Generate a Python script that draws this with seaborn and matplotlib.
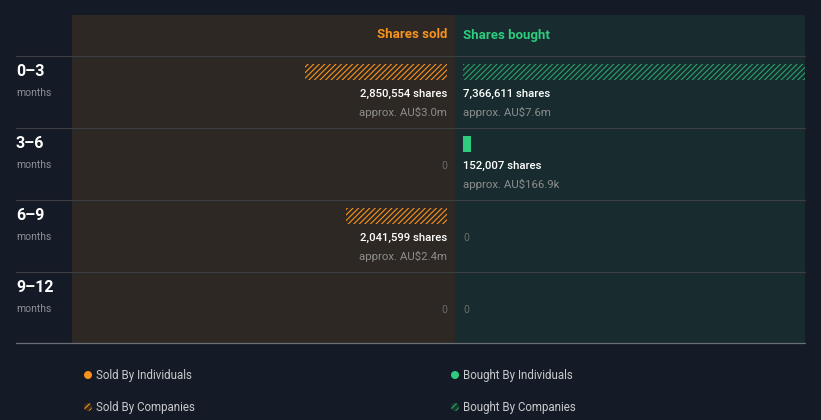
import matplotlib
matplotlib.use('Agg')
import matplotlib.pyplot as plt
from matplotlib.patches import Rectangle, Circle
import seaborn as sns

# ---- data ----
periods = ['0–3', '3–6', '6–9', '9–12']
sold_individuals = [0, 0, 0, 0]
sold_companies = [2850554, 0, 2041599, 0]
bought_individuals = [0, 152007, 0, 0]
bought_companies = [7366611, 0, 0, 0]
sold_value = ['AU$3.0m', None, 'AU$2.4m', None]
bought_value = ['AU$7.6m', 'AU$166.9k', None, None]

# ---- style ----
BG = '#151b26'
SOLD_BG = '#2d2823'
BOUGHT_BG = '#182b2e'
ORANGE = '#f7931e'
GREEN = '#2dcc7e'
GREEN_HATCH = '#27a26b'
GRID = '#3d3f44'
HATCH = '//////'

sns.set_theme(style='dark', rc={'figure.facecolor': BG, 'axes.facecolor': 'none'})
plt.rcParams['font.family'] = ['Roboto', 'DejaVu Sans']
plt.rcParams['hatch.linewidth'] = 0.8

W, H = 821, 420
fig = plt.figure(figsize=(W / 100, H / 100), dpi=100)
fig.patch.set_facecolor(BG)

# background / layout axes in pixel units
bg = fig.add_axes([0, 0, 1, 1], zorder=0)
bg.set_xlim(0, W)
bg.set_ylim(H, 0)
bg.axis('off')

bg.add_patch(Rectangle((72, 15), 455 - 72, 343 - 15, facecolor=SOLD_BG, lw=0))
bg.add_patch(Rectangle((455, 15), 805 - 455, 343 - 15, facecolor=BOUGHT_BG, lw=0))

row_top, row_h = 56, 72
for i in range(len(periods)):
    y = row_top + i * row_h
    bg.plot([16, 805], [y, y], color=GRID, lw=0.8)
    bg.text(16, y + 15, periods[i], color='white', fontsize=11.5, fontweight='bold', va='center', ha='left')
    bg.text(16, y + 37, 'months', color='#8b8f96', fontsize=7.5, va='center', ha='left')
bg.plot([16, 805], [343, 343], color='#6a6f77', lw=0.9)

bg.text(447, 35, 'Shares sold', color=ORANGE, fontsize=9.5, fontweight='bold', ha='right', va='center')
bg.text(463, 35, 'Shares bought', color=GREEN, fontsize=9.5, fontweight='bold', ha='left', va='center')

# legend
leg = [('Sold By Individuals', ORANGE, None, 88, 375),
       ('Sold By Companies', ORANGE, '/////', 88, 407),
       ('Bought By Individuals', GREEN, None, 455, 375),
       ('Bought By Companies', GREEN_HATCH, '/////', 455, 407)]
for label, c, h, x, y in leg:
    if h is None:
        bg.add_patch(Circle((x, y), 4, facecolor=c, lw=0))
    else:
        bg.add_patch(Circle((x, y), 4, facecolor='#3a2a1a' if c == ORANGE else '#173a2c',
                            edgecolor=c, hatch=h, lw=0))
    bg.text(x + 8, y, label, color='#c8cacd', fontsize=8.3, va='center', ha='left')

# ---- data axes ----
px_per_share = 375 / 7.55e6
y0_fig = 1 - 344 / H
h_fig = (344 - 56) / H
bar_w = 16 / 72
top_off = 8 / 72 + bar_w / 2  # bar centre below row top
ylim = (len(periods) - top_off, -top_off)

ax_s = fig.add_axes([72 / W, y0_fig, (447 - 72) / W, h_fig], zorder=2)
ax_b = fig.add_axes([463 / W, y0_fig, (805 - 463) / W, h_fig], zorder=2)

for ax, ind, comp, col, hcol in [(ax_s, sold_individuals, sold_companies, ORANGE, ORANGE),
                                  (ax_b, bought_individuals, bought_companies, GREEN, GREEN_HATCH)]:
    sns.barplot(x=ind, y=periods, orient='h', width=bar_w, color=col, saturation=1, ax=ax)
    n = len(ax.patches)
    sns.barplot(x=comp, y=periods, orient='h', width=bar_w, color=col, saturation=1, ax=ax)
    for p in ax.patches:
        p.set_linewidth(0)
    for p in ax.patches[n:]:
        p.set_facecolor('none')
        p.set_edgecolor(hcol)
        p.set_hatch(HATCH)
    ax.set_ylim(*ylim)
    ax.axis('off')

ax_s.set_xlim(7.55e6, 0)
ax_b.set_xlim(0, (805 - 463) / px_per_share)

for ax, ind, comp, vals, ha in [(ax_s, sold_individuals, sold_companies, sold_value, 'right'),
                                (ax_b, bought_individuals, bought_companies, bought_value, 'left')]:
    for i in range(len(periods)):
        total = ind[i] + comp[i]
        if total > 0:
            ax.text(0, i - top_off + 38 / 72, f'{total:,} shares', color='white', fontsize=8.2,
                    fontweight='medium', ha=ha, va='center')
            ax.text(0, i - top_off + 56 / 72, f'approx. {vals[i]}', color='#8d8d8d', fontsize=8.2,
                    ha=ha, va='center')
        else:
            ax.text(0, i - top_off + 38 / 72, '0', color='#6c6c6c', fontsize=7.5, ha=ha, va='center')

fig.savefig('out.png', dpi=100, facecolor=BG)
